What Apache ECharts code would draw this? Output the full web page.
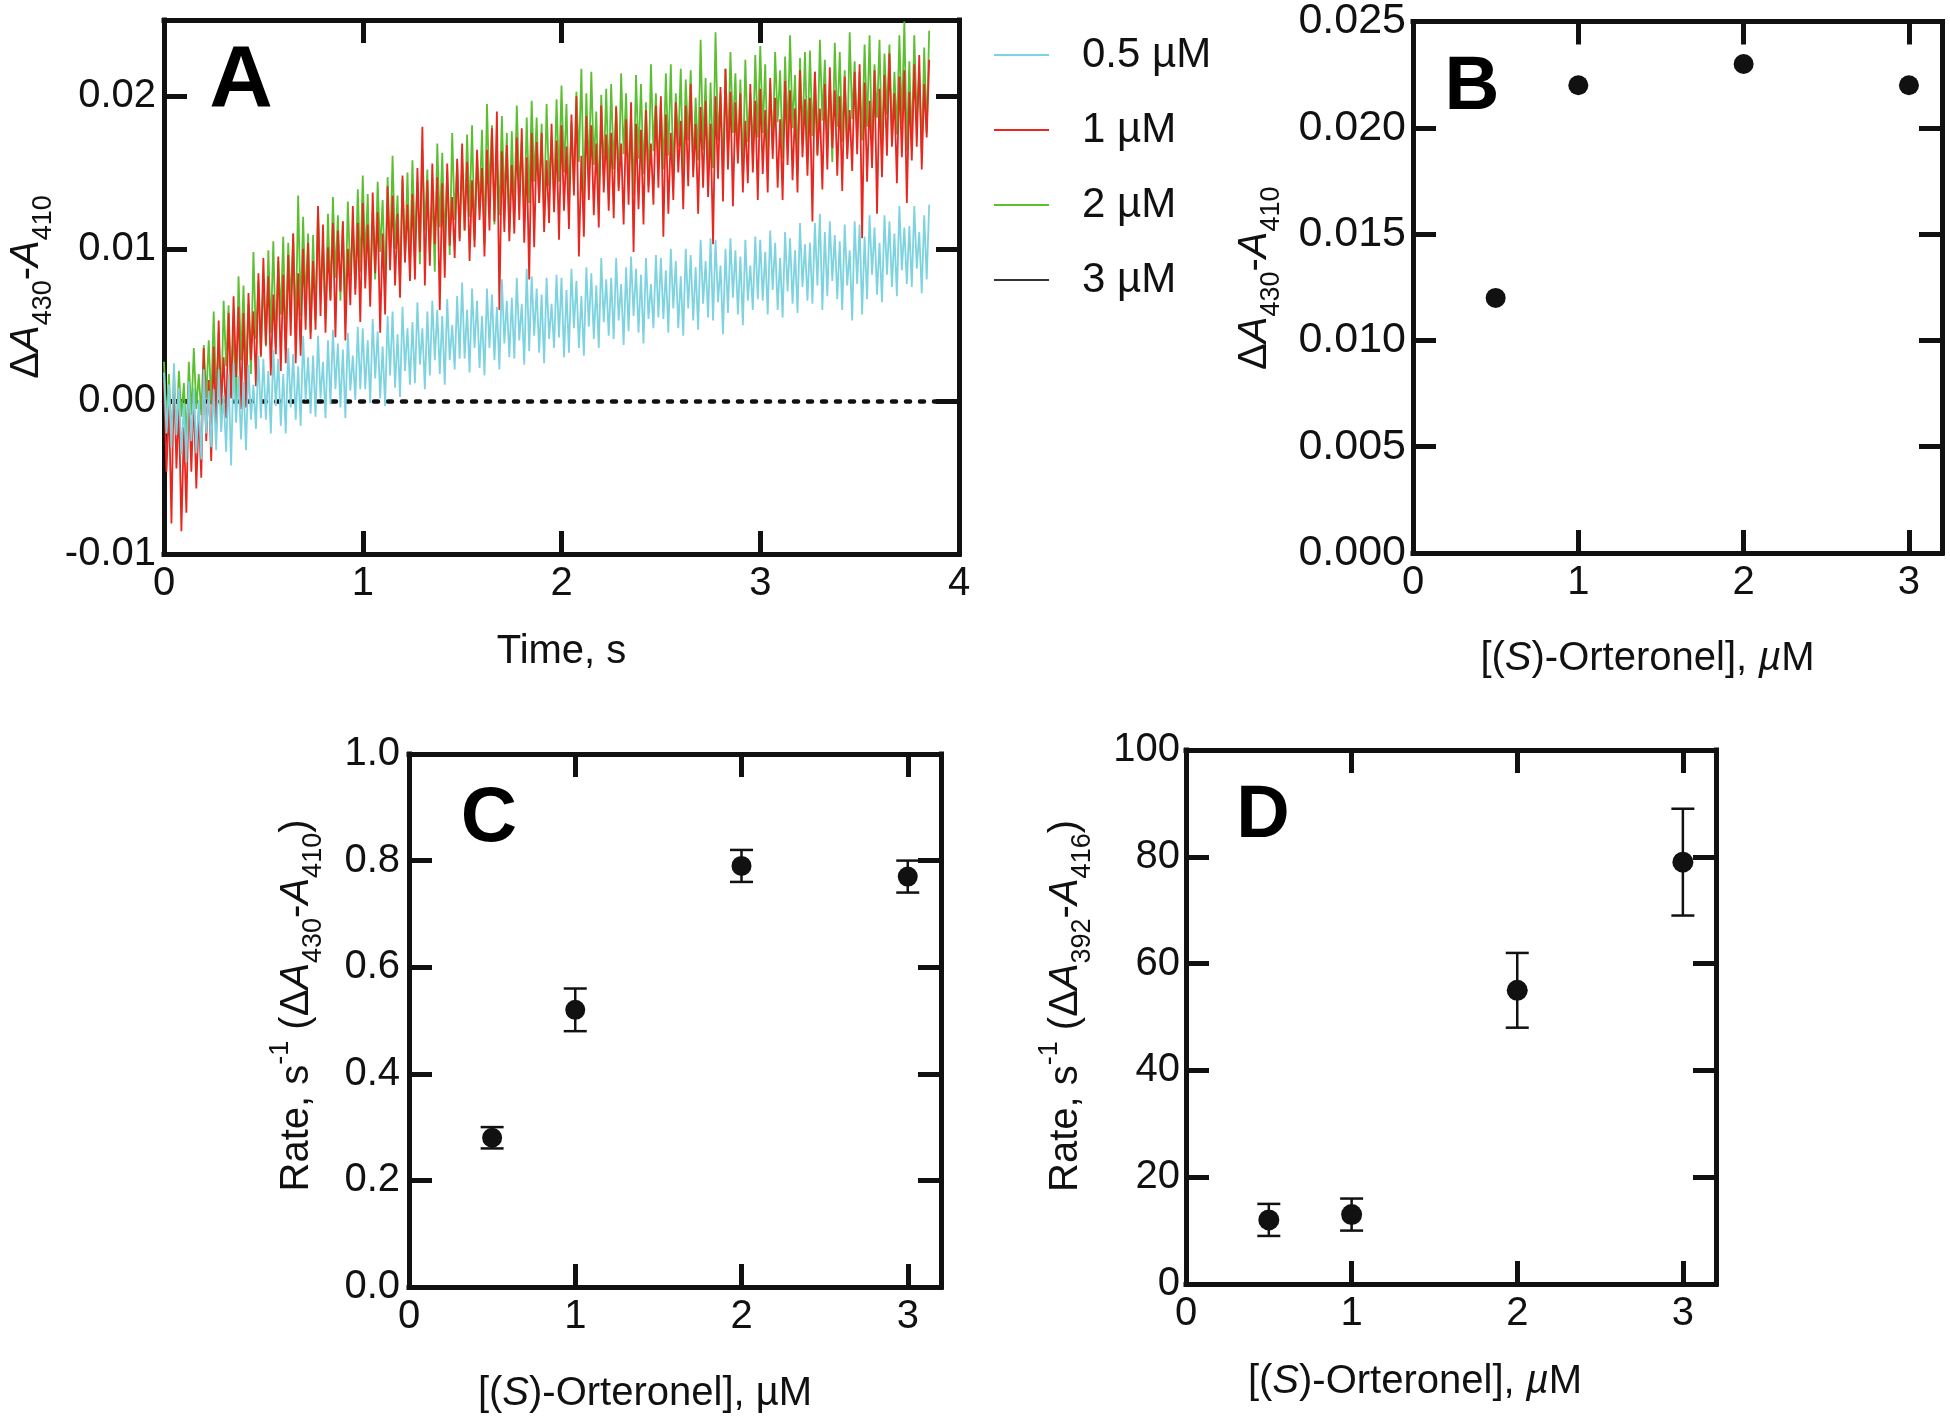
<!DOCTYPE html>
<html><head><meta charset="utf-8">
<script src="https://cdn.jsdelivr.net/npm/echarts@6/dist/echarts.min.js"></script>
<style>html,body{margin:0;padding:0;background:#fff}#c{width:1950px;height:1420px}</style>
</head><body><div id="c"></div><script>
const FONT = "'Liberation Sans', Arial, Helvetica, sans-serif";

// ---------- Panel A: kinetic traces (ΔA430-A410, in units of 0.001) ----------
const traceStep = 0.0125; // s between samples
const seriesNames = ['0.5 µM', '1 µM', '2 µM', '3 µM'];
const trace05 = [
 1.9,-2.1,1.1,-3.0,2.5,-2.2,0.9,-3.5,-0.1,-4.0,1.3,-2.6,0.9,-3.4,0.1,-3.8,2.1,-2.1,0.7,-3.0,
 0.8,-3.2,2.1,-2.0,0.4,-3.3,1.8,-4.2,2.5,-1.4,1.7,-2.5,1.3,-3.2,2.4,-1.2,1.1,-1.8,3.0,-1.1,
 2.8,-1.2,2.0,-2.1,3.4,-0.3,2.8,-1.6,1.8,-2.1,3.5,-0.4,3.1,-1.2,2.3,-1.6,4.3,0.1,2.9,-0.8,
 3.0,-1.0,4.3,0.2,2.6,-1.1,4.0,-0.2,4.7,0.8,3.8,-0.4,3.4,-1.1,4.5,0.7,3.0,0.1,4.9,0.8,
 4.8,0.8,4.0,-0.1,5.4,1.5,4.6,0.2,3.6,-0.3,5.6,1.7,5.9,0.9,4.4,0.3,6.2,2.0,4.8,1.1,
 5.2,1.2,6.5,2.4,4.8,0.8,5.9,1.7,6.6,2.7,6.0,1.8,5.6,1.1,6.7,2.7,5.0,2.1,6.9,2.8,
 7.8,2.8,6.0,1.9,7.4,3.5,6.6,2.2,5.6,1.7,7.4,3.5,7.0,2.7,6.2,2.1,8.0,3.8,6.6,2.9,
 6.8,2.8,8.1,4.0,6.4,2.4,8.7,3.3,8.2,4.3,7.4,3.2,7.0,2.5,8.1,4.1,6.4,3.5,8.3,4.2,
 8.1,2.9,7.3,3.2,8.7,4.8,7.9,3.5,6.9,3.0,8.8,4.9,8.4,4.1,7.6,3.5,9.4,5.2,8.0,4.3,
 8.1,4.1,9.4,5.3,7.7,3.7,8.8,4.6,9.5,5.6,8.7,4.5,8.3,3.8,9.4,5.4,7.7,4.8,9.6,5.5,
 9.4,5.4,8.6,4.5,10.0,6.1,9.2,4.8,8.2,4.3,10.0,6.1,9.6,5.3,8.8,4.7,10.6,6.4,9.2,5.5,
 10.7,5.3,10.6,6.5,8.9,4.4,10.0,5.8,10.7,6.8,9.9,5.7,9.5,5.0,10.6,6.6,8.9,6.0,10.8,6.7,
 10.6,6.6,9.8,5.7,11.2,7.3,10.4,6.0,9.4,5.5,11.1,7.2,10.7,6.4,9.9,5.8,11.7,7.5,10.3,6.6,
 10.4,6.4,11.7,7.6,12.3,6.0,11.1,6.9,11.8,7.9,10.9,6.7,10.5,6.0,11.6,7.6,9.9,5.3,11.8,7.7,
 11.6,5.7,10.8,6.7,12.2,8.3,11.4,7.0,10.4,6.5,12.2,8.3,11.8,7.5,11.0,6.9,12.8,8.6,11.4,7.7,
 11.5,7.5,12.8,8.7,11.1,7.1,12.2,8.0,12.9];
const trace1 = [
 1.4,-4.6,-0.1,-8.0,2.2,-4.4,-0.3,-8.5,-1.7,-7.3,1.2,-4.6,0.5,-5.7,-0.7,-5.0,3.5,-2.6,1.4,-3.9,
 3.6,-2.0,5.3,-0.2,2.9,-1.1,5.8,0.2,6.9,1.6,6.2,-0.5,5.8,-0.4,7.1,2.7,5.9,1.0,8.4,3.0,
 9.4,3.7,8.2,1.7,7.0,3.1,9.5,2.0,8.3,2.5,9.6,4.3,11.0,2.5,8.4,3.0,10.0,4.7,10.4,4.1,
 9.2,4.7,12.8,5.6,11.6,4.5,10.1,6.6,11.7,4.2,11.2,7.2,11.8,4.0,10.0,6.3,12.8,7.0,11.7,5.2,
 13.0,7.4,11.6,6.2,13.7,8.4,12.4,4.5,11.0,5.7,14.1,8.6,13.5,7.6,12.3,6.8,14.8,9.1,12.9,7.9,
 13.6,8.0,15.3,9.8,18.0,7.6,14.5,8.9,15.6,10.3,14.7,6.0,14.3,8.1,15.6,10.2,13.4,9.4,15.9,10.5,
 16.9,11.2,15.7,9.2,14.5,10.1,16.5,11.9,15.3,9.5,16.5,11.2,17.9,11.8,19.0,6.0,16.4,11.1,16.8,10.5,
 15.5,11.0,17.3,11.9,17.9,10.4,16.0,8.0,17.6,10.1,17.0,13.0,17.6,11.1,15.8,11.7,18.2,12.4,17.1,10.6,
 18.1,12.5,16.7,11.3,18.8,13.5,20.0,9.5,16.1,10.8,18.7,13.2,18.1,12.2,16.9,11.4,19.4,13.7,17.5,12.5,
 17.6,12.0,19.3,13.8,16.9,11.6,18.5,12.9,19.6,9.8,18.2,12.6,17.8,11.6,19.1,13.7,16.9,12.9,19.4,14.0,
 20.0,10.8,18.8,12.3,17.6,13.2,19.6,15.0,18.4,12.6,19.4,14.1,20.8,14.7,18.2,12.3,19.3,14.0,19.7,13.4,
 18.2,10.3,20.0,14.6,20.6,13.1,21.8,15.2,20.3,12.8,19.6,15.6,20.2,13.7,18.4,14.3,20.8,15.0,19.7,13.2,
 20.5,14.9,19.1,13.7,21.2,15.9,19.9,14.0,18.5,13.2,21.0,15.5,20.4,14.5,19.2,13.7,21.7,16.0,19.8,14.8,
 19.9,11.8,21.6,16.1,19.2,13.9,20.8,15.2,21.9,16.6,20.4,14.8,20.0,13.8,21.3,15.9,19.1,15.1,21.6,16.2,
 22.1,10.7,20.9,14.4,19.7,15.3,21.7,12.3,20.5,14.7,21.4,16.1,22.8,16.7,20.2,14.3,21.3,16.0,21.7,13.0,
 20.3,15.8,22.1,16.7,22.7,15.2,20.8,17.3,22.4];
const trace2 = [
 2.6,-1.2,1.8,-2.5,1.0,-2.2,2.0,-1.0,1.2,-2.6,2.6,-0.9,3.5,-0.5,1.8,-0.9,3.7,0.2,4.0,-0.2,
 5.9,0.3,4.5,-0.9,6.6,2.3,6.3,0.4,4.9,-0.4,8.2,2.7,7.6,1.7,6.4,1.8,9.8,4.1,7.9,2.9,
 8.1,3.6,9.9,4.5,10.5,3.6,9.2,5.7,10.8,3.3,10.4,6.4,11.0,4.5,13.5,5.6,12.1,6.3,11.0,4.5,
 10.9,5.3,12.6,7.1,10.2,5.4,12.3,6.7,13.4,8.1,12.2,6.6,11.8,5.6,13.1,8.2,11.4,7.4,13.9,8.5,
 14.8,9.1,13.6,7.1,12.4,8.0,14.4,9.8,13.2,7.4,14.7,9.4,16.1,10.0,13.5,7.6,14.6,9.3,15.0,8.7,
 15.8,10.2,14.4,9.0,16.5,11.2,15.2,9.3,13.8,8.5,16.9,11.4,16.3,10.4,15.1,9.6,17.6,11.9,15.7,10.7,
 15.7,11.2,17.5,12.1,18.1,10.6,16.2,12.7,17.8,10.3,19.5,13.5,18.1,11.6,16.3,12.2,18.7,12.9,17.6,11.1,
 17.7,12.1,19.4,13.9,17.0,11.7,18.6,13.0,19.7,14.4,18.6,13.0,18.2,12.0,19.5,14.1,17.3,13.3,19.8,14.4,
 20.7,15.0,19.5,13.0,18.3,13.9,20.3,15.7,21.8,13.3,20.2,14.9,21.6,15.5,19.0,13.1,20.1,14.8,20.5,14.2,
 20.8,15.2,19.4,14.0,21.5,16.2,20.2,14.3,18.8,13.5,21.4,15.9,20.8,14.9,19.6,14.1,22.1,16.4,20.2,15.2,
 19.7,15.2,21.5,16.1,22.1,14.6,20.2,16.7,21.8,14.3,21.1,17.1,21.7,15.2,19.9,15.8,23.7,16.5,21.2,14.7,
 20.9,15.3,24.2,17.1,20.2,14.9,21.8,16.2,22.9,17.6,21.5,15.9,21.1,14.9,22.4,17.0,20.2,16.2,22.7,17.3,
 23.3,17.6,22.1,15.6,20.9,16.5,22.9,18.3,21.7,15.9,22.6,17.3,24.0,17.9,21.4,15.5,22.5,17.2,22.9,16.6,
 23.0,17.4,21.6,16.2,23.7,18.4,22.4,16.5,21.0,15.7,23.5,18.0,22.9,17.0,21.7,16.2,24.2,18.5,22.3,17.3,
 21.6,17.1,23.4,18.0,24.0,16.5,22.1,18.6,23.7,16.2,22.8,18.8,23.4,16.9,21.6,17.5,24.0,18.2,24.9,16.4,
 22.3,16.7,24.0,18.5,21.6,16.3,23.2,17.6,24.3];
const trace3 = []; // 3 µM trace not visible in the figure
const baselineA = [[0, 0], [4, 0]];

// ---------- Panel B ----------
const concB = [0.5, 1, 2, 3];
const ampB = [0.012, 0.022, 0.023, 0.022];
// ---------- Panel C ----------
const concC = [0.5, 1, 2, 3];
const rateC = [0.28, 0.52, 0.79, 0.77];
const errC = [0.02, 0.04, 0.03, 0.03];
// ---------- Panel D ----------
const concD = [0.5, 1, 2, 3];
const rateD = [12, 13, 55, 79];
const errD = [3, 3, 7, 10];

const colors = { c05: '#7dd3df', c1: '#e8271f', c2: '#5cbf30', c3: '#333333' };
const toPairs = arr => arr.map((v, i) => [i * traceStep, v]);

const LINE = { show: true, onZero: false, lineStyle: { color: '#111', width: 5, cap: 'square' } };
const TICK = { show: true, inside: true, length: 23, lineStyle: { color: '#111', width: 5 } };
const LBL = (extra) => Object.assign({ show: true, fontFamily: FONT, fontSize: 40, color: '#111' }, extra || {});
const nameStyle = (extra) => Object.assign({
  fontFamily: FONT, fontSize: 40, color: '#111', lineHeight: 46,
  rich: {
    it: { fontFamily: FONT, fontSize: 40, fontStyle: 'italic', color: '#111', lineHeight: 46 },
  }
}, extra || {});
const yRich = {
  r: { fontFamily: FONT, fontSize: 40, color: '#111', lineHeight: 60 },
  i: { fontFamily: FONT, fontSize: 40, fontStyle: 'italic', color: '#111', lineHeight: 60 },
  s: { fontFamily: FONT, fontSize: 27, color: '#111', lineHeight: 27, verticalAlign: 'bottom' },
  p: { fontFamily: FONT, fontSize: 27, color: '#111', lineHeight: 27, verticalAlign: 'top' }
};

function axesFor(g, x, y) {
  const xs = [
    Object.assign({ type: 'value', gridIndex: g, position: 'bottom', min: x.min, max: x.max, interval: x.interval,
      axisLine: LINE, axisTick: TICK, splitLine: { show: false },
      axisLabel: LBL({ margin: x.margin, showMaxLabel: x.showMax, formatter: x.fmt }),
      name: x.name, nameLocation: 'middle', nameGap: x.gap, nameTextStyle: nameStyle({ padding: x.pad || 0 }) }),
    { type: 'value', gridIndex: g, position: 'top', min: x.min, max: x.max, interval: x.interval,
      axisLine: LINE, axisTick: TICK, splitLine: { show: false }, axisLabel: { show: false } }
  ];
  const ys = [
    Object.assign({ type: 'value', gridIndex: g, position: 'left', min: y.min, max: y.max, interval: y.interval,
      axisLine: LINE, axisTick: TICK, splitLine: { show: false },
      axisLabel: LBL({ margin: y.margin, showMaxLabel: y.showMax, formatter: y.fmt, fontSize: y.fs || 40 }),
      name: y.name, nameLocation: 'middle', nameRotate: 90, nameGap: y.gap,
      nameTextStyle: { fontFamily: FONT, fontSize: 40, color: '#111', padding: y.pad || 0, rich: yRich } }),
    { type: 'value', gridIndex: g, position: 'right', min: y.min, max: y.max, interval: y.interval,
      axisLine: LINE, axisTick: TICK, splitLine: { show: false }, axisLabel: { show: false } }
  ];
  return { xs, ys };
}

const orteronel = '[({it|S})-Orteronel], {it|µ}M';
const orteronelC = '[({it|S})-Orteronel], µM';
const A = axesFor(0,
  { min: 0, max: 4, interval: 1, margin: 10, showMax: true, name: 'Time, s', gap: 75 },
  { min: -10, max: 25, interval: 10, margin: 8, showMax: false, fmt: v => (v / 1000).toFixed(2),
    name: '{r|Δ}{i|A}{s|430}{r|-}{i|A}{s|410}', gap: 107 });
const B = axesFor(1,
  { min: 0, max: 3.2, interval: 1, margin: 10, showMax: false, name: orteronel, gap: 83, pad: [0, 60, 0, 0] },
  { min: 0, max: 0.025, interval: 0.005, margin: 7, showMax: true, fmt: v => v.toFixed(3), fs: 43,
    name: '{r|Δ}{i|A}{s|430}{r|-}{i|A}{s|410}', gap: 128, pad: [0, 0, 0, 18] });
const C = axesFor(2,
  { min: 0, max: 3.2, interval: 1, margin: 10, showMax: false, name: orteronelC, gap: 84, pad: [0, 60, 0, 0] },
  { min: 0, max: 1, interval: 0.2, margin: 9, showMax: true, fmt: v => v.toFixed(1),
    name: '{r|Rate, s}{p|-1}{r| (Δ}{i|A}{s|430}{r|-}{i|A}{s|410}{r|)}', gap: 82, pad: [0, 0, 0, 30] });
const D = axesFor(3,
  { min: 0, max: 3.2, interval: 1, margin: 10, showMax: false, name: orteronel, gap: 75, pad: [0, 72, 0, 0] },
  { min: 0, max: 100, interval: 20, margin: 6, showMax: true,
    name: '{r|Rate, s}{p|-1}{r| (Δ}{i|A}{s|392}{r|-}{i|A}{s|416}{r|)}', gap: 90, pad: [0, 0, 0, 22] });

function errorBarSeries(xi, yi, xsArr, ysArr, errArr) {
  return {
    type: 'custom', xAxisIndex: xi, yAxisIndex: yi, z: 3,
    data: xsArr.map((c, i) => [c, ysArr[i] - errArr[i], ysArr[i] + errArr[i]]),
    renderItem: (params, api) => {
      const x = api.value(0);
      const pLo = api.coord([x, api.value(1)]);
      const pHi = api.coord([x, api.value(2)]);
      const w = 11.5;
      const st = { stroke: '#111', lineWidth: 2.5 };
      return { type: 'group', children: [
        { type: 'line', shape: { x1: pHi[0], y1: pHi[1], x2: pLo[0], y2: pLo[1] }, style: st },
        { type: 'line', shape: { x1: pHi[0] - w, y1: pHi[1], x2: pHi[0] + w, y2: pHi[1] }, style: st },
        { type: 'line', shape: { x1: pLo[0] - w, y1: pLo[1], x2: pLo[0] + w, y2: pLo[1] }, style: st }
      ] };
    }
  };
}
const dots = (xi, yi, xsArr, ysArr, size) => ({
  type: 'scatter', xAxisIndex: xi, yAxisIndex: yi, z: 4, symbol: 'circle', symbolSize: size,
  itemStyle: { color: '#111', opacity: 1 }, data: xsArr.map((c, i) => [c, ysArr[i]])
});
const trace = (name, data, color, z) => ({
  name, type: 'line', xAxisIndex: 0, yAxisIndex: 0, z, showSymbol: false, symbol: 'none',
  sampling: null, lineStyle: { color, width: 1.8 }, itemStyle: { color }, data: toPairs(data)
});
const letter = (t, x, y, size) => ({ type: 'text', x, y, z: 10,
  style: { text: t, fontFamily: FONT, fontWeight: 'bold', fontSize: size, fill: '#000', textAlign: 'center', textVerticalAlign: 'middle' } });

const option = {
  animation: false,
  backgroundColor: '#fff',
  grid: [
    { left: 164, top: 20, width: 795, height: 534 },
    { left: 1413, top: 21, width: 529, height: 532 },
    { left: 409, top: 754, width: 532, height: 533 },
    { left: 1186, top: 750, width: 530, height: 534 }
  ],
  xAxis: [...A.xs, ...B.xs, ...C.xs, ...D.xs],
  yAxis: [...A.ys, ...B.ys, ...C.ys, ...D.ys],
  legend: {
    orient: 'vertical', left: 994, top: 34, padding: 0, itemGap: 33,
    itemWidth: 55, itemHeight: 2, icon: 'rect',
    data: seriesNames,
    textStyle: { fontFamily: FONT, fontSize: 42, color: '#111', lineHeight: 42, padding: [0, 0, 0, 28] }
  },
  graphic: [
    letter('A', 241, 82, 88),
    letter('B', 1472, 88, 76),
    letter('C', 489, 819, 78),
    letter('D', 1263, 817, 74)
  ],
  series: [
    { type: 'line', xAxisIndex: 0, yAxisIndex: 0, z: 1, symbol: 'none', data: baselineA,
      lineStyle: { color: '#111', width: 4.5, type: [4, 10], cap: 'round' }, silent: true },
    trace(seriesNames[3], trace3, colors.c3, 2),
    trace(seriesNames[2], trace2, colors.c2, 2),
    trace(seriesNames[1], trace1, colors.c1, 2),
    trace(seriesNames[0], trace05, colors.c05, 2),
    dots(2, 2, concB, ampB, 20),
    errorBarSeries(4, 4, concC, rateC, errC),
    dots(4, 4, concC, rateC, 20),
    errorBarSeries(6, 6, concD, rateD, errD),
    dots(6, 6, concD, rateD, 21)
  ]
};
const chart = echarts.init(document.getElementById('c'), null, { renderer: 'canvas' });
chart.setOption(option);
</script></body></html>
